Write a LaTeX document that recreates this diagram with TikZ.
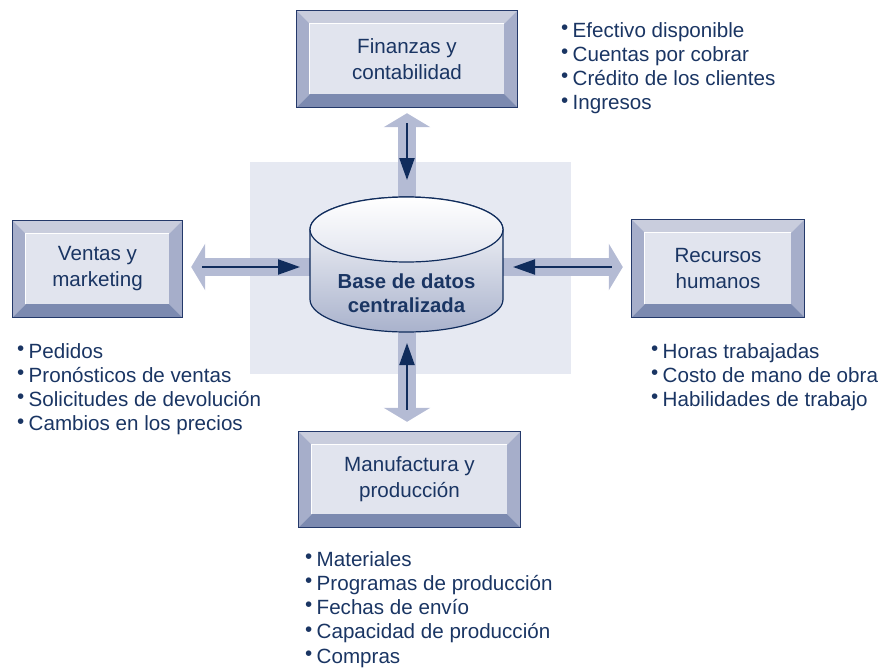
\documentclass[tikz,border=0pt]{standalone}
\usepackage{fontspec}
\setmainfont{Liberation Sans}
\usetikzlibrary{arrows.meta,calc}
\definecolor{bgc}{HTML}{E6E9F2}
\definecolor{lightc}{HTML}{B4BBD4}
\definecolor{navy}{HTML}{102C5C}
\definecolor{txt}{HTML}{1A3563}
\definecolor{face}{HTML}{E1E4EE}
\definecolor{bvtop}{HTML}{C9CDDD}
\definecolor{bvside}{HTML}{A6AECA}
\definecolor{bvbot}{HTML}{7C8AB0}
\definecolor{border}{HTML}{24396A}
\definecolor{cylbot}{HTML}{A9B2CC}
\newcommand\bul{\makebox[11.5pt][l]{\raisebox{0.14em}{\textbullet}}}
\newcommand\bevelbox[1]{%
  \fill[bvtop] (#1.north west) -- (#1.north east) -- ($(#1.north east)+(-13,13)$) -- ($(#1.north west)+(13,13)$) -- cycle;
  \fill[bvside] (#1.north west) -- ($(#1.north west)+(13,13)$) -- ($(#1.south west)+(13,-13)$) -- (#1.south west) -- cycle;
  \fill[bvside] (#1.north east) -- ($(#1.north east)+(-13,13)$) -- ($(#1.south east)+(-13,-13)$) -- (#1.south east) -- cycle;
  \fill[bvbot] (#1.south west) -- ($(#1.south west)+(13,-13)$) -- ($(#1.south east)+(-13,-13)$) -- (#1.south east) -- cycle;
  \draw[white, line width=0.8pt] ($(#1.south west)+(13,-13)$) -- ($(#1.north west)+(13,13)$) -- ($(#1.north east)+(-13,13)$);
  \draw[border,line width=1.2pt] (#1.north west) rectangle (#1.south east);
}
\tikzset{
  box/.style={fill=face, inner sep=0pt, align=center, text=txt, font=\fontsize{20.6}{26}\selectfont},
  wide/.style={line width=18pt, draw=lightc, -{Triangle[width=46pt 0 0,length=14pt 0 0]}},
  dark/.style={line width=2.2pt, draw=navy, -{Triangle[width=15pt 0 0,length=22pt 0 0]}},
  listtext/.style={anchor=base west, inner sep=0pt, text=txt, font=\fontsize{20.6}{24.3}\selectfont},
}
\begin{document}
\begin{tikzpicture}[x=1pt,y=-1pt]
\useasboundingbox (0,0) rectangle (884,670);
% background panel
\fill[bgc] (250,162) rectangle (571,374);
% boxes
\node[box, minimum width=220pt, minimum height=96pt] (fin) at (407,59) {Finanzas y\\contabilidad};
\node[box, minimum width=169pt, minimum height=96pt] (ven) at (97.5,269) {Ventas y\\marketing};
\node[box, minimum width=172pt, minimum height=97pt] (rec) at (718,268.5) {Recursos\\humanos};
\node[box, minimum width=221pt, minimum height=95pt] (man) at (409.5,479.5) {Manufactura y\\producción};
\bevelbox{fin}
\bevelbox{ven}
\bevelbox{rec}
\bevelbox{man}
% database reference points
\coordinate (dbc) at (407,267);
\coordinate (dbN) at (407,197);
\coordinate (dbS) at (407,332);
\coordinate (dbW) at (310,267);
\coordinate (dbE) at (503,267);
% wide light arrows
\draw[wide, shorten >=6pt] (dbc) -- (dbc |- fin.south);
\draw[wide, shorten >=10pt] (dbc) -- (dbc |- man.north);
\draw[wide, shorten >=9pt] (dbc) -- (ven.east |- dbc);
\draw[wide, shorten >=9pt] (dbc) -- (rec.west |- dbc);
% dark arrows
\draw[dark, shorten <=16pt, shorten >=17pt] (dbN |- fin.south) -- (dbN);
\draw[dark, shorten <=22pt, shorten >=11pt] (dbS |- man.north) -- (dbS);
\draw[dark, shorten <=20pt, shorten >=10pt] (ven.east |- dbc) -- (dbW);
\draw[dark, shorten <=20pt, shorten >=10pt] (rec.west |- dbc) -- (dbE);
% cylinder
\shade[top color=white, bottom color=cylbot, draw=navy, line width=1.2pt]
  (310,229.5) -- (310,299.5) arc[start angle=180, end angle=360, x radius=96.5pt, y radius=32.5pt]
  -- (503,229.5) arc[start angle=0, end angle=180, x radius=96.5pt, y radius=32.5pt] -- cycle;
\shade[top color=white, bottom color=face, draw=navy, line width=1.2pt]
  (406.5,229.5) ellipse [x radius=96.5pt, y radius=32.5pt];
\node[inner sep=0pt, align=center, text=txt, font=\fontsize{20.3}{24}\selectfont\bfseries] (db) at (406.5,293) {Base de datos\\centralizada};
% lists
\node[listtext] (l1) at (561,37) {\begin{tabular}[t]{@{}l@{}}\bul Efectivo disponible\\\bul Cuentas por cobrar\\\bul Crédito de los clientes\\\bul Ingresos\end{tabular}};
\node[listtext] (l2) at (17,358) {\begin{tabular}[t]{@{}l@{}}\bul Pedidos\\\bul Pronósticos de ventas\\\bul Solicitudes de devolución\\\bul Cambios en los precios\end{tabular}};
\node[listtext] (l3) at (651,358) {\begin{tabular}[t]{@{}l@{}}\bul Horas trabajadas\\\bul Costo de mano de obra\\\bul Habilidades de trabajo\end{tabular}};
\node[listtext] (l4) at (305,566) {\begin{tabular}[t]{@{}l@{}}\bul Materiales\\\bul Programas de producción\\\bul Fechas de envío\\\bul Capacidad de producción\\\bul Compras\end{tabular}};
\end{tikzpicture}
\end{document}
